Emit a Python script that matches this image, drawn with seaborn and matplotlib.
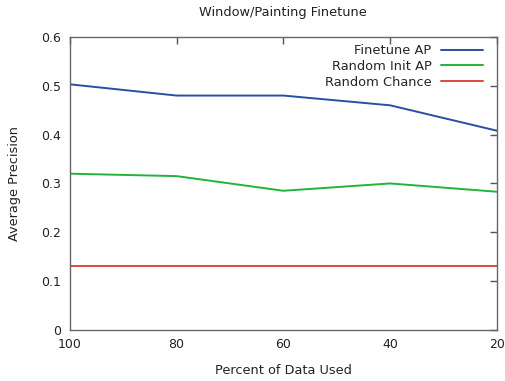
import matplotlib
matplotlib.use("Agg")
import matplotlib.pyplot as plt
import seaborn as sns
import pandas as pd

# Percent of training data used
percent = [100, 80, 60, 40, 20]
finetune_ap = [0.503, 0.480, 0.480, 0.460, 0.408]
random_init_ap = [0.320, 0.315, 0.285, 0.300, 0.283]
random_chance = [0.13, 0.13, 0.13, 0.13, 0.13]

series_names = ["Finetune AP", "Random Init AP", "Random Chance"]
series_colors = ["#2a4ea6", "#22b33a", "#e0473a"]

df = pd.DataFrame({
    "percent": percent * 3,
    "ap": finetune_ap + random_init_ap + random_chance,
    "series": [series_names[0]] * 5 + [series_names[1]] * 5 + [series_names[2]] * 5,
})

sns.set_style("white")
plt.rcParams["font.family"] = ["DejaVu Sans"]

fig = plt.figure(figsize=(5.06, 3.81), dpi=100)
ax = fig.add_axes([0.138, 0.134, 0.844, 0.769])

sns.lineplot(data=df, x="percent", y="ap", hue="series", hue_order=series_names,
             palette=series_colors, linewidth=1.4, ax=ax)

ax.set_xlim(100, 20)
ax.set_ylim(0, 0.6)
ax.set_xticks([100, 80, 60, 40, 20])
ax.set_yticks([0, 0.1, 0.2, 0.3, 0.4, 0.5, 0.6])
ax.set_yticklabels(["0", "0.1", "0.2", "0.3", "0.4", "0.5", "0.6"])

for s in ax.spines.values():
    s.set_visible(True)
    s.set_color("#666666")
    s.set_linewidth(1.0)

ax.tick_params(direction="in", length=5, width=1, color="#555555",
               top=True, right=True, labelsize=9, pad=6, labelcolor="#222222")

ax.set_xlabel("Percent of Data Used", fontsize=9.3, labelpad=9, color="#222222")
ax.set_ylabel("Average Precision", fontsize=9.3, labelpad=15, color="#222222")
ax.set_title("Window/Painting Finetune", fontsize=9.3, pad=15, color="#222222")

ax.legend(loc="upper right", bbox_to_anchor=(1.0, 1.024), frameon=False,
          markerfirst=False, fontsize=9.4, handlelength=3.2, handletextpad=0.7,
          labelspacing=0.2, borderaxespad=0.9, borderpad=0.2, title=None)

fig.savefig("out.png", dpi=100)
